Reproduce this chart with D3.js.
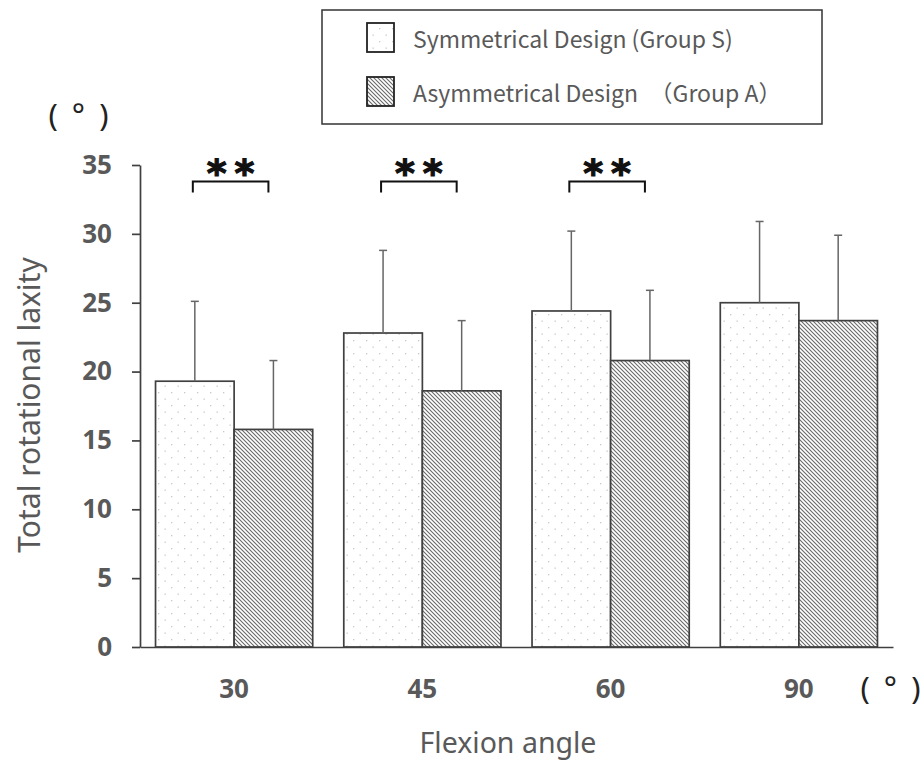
<!DOCTYPE html>
<html>
<head>
<meta charset="utf-8">
<script src="https://cdn.jsdelivr.net/npm/d3@7"></script>
<style>
  body { margin: 0; background: #fff; }
  svg { display: block; }
</style>
</head>
<body>
<svg id="vis" width="924" height="763"></svg>
<script>
// data
const angles = ["30", "45", "60", "90"];
const groups = ["S", "A"];
const groupLabels = ["Symmetrical Design (Group S)", "Asymmetrical Design\u3000\uff08Group A\uff09"];
const meanS = [19.3, 22.8, 24.4, 25.0];
const meanA = [15.8, 18.6, 20.8, 23.7];
const sdS = [5.8, 6.0, 5.8, 5.9];
const sdA = [5.0, 5.1, 5.1, 6.2];
const significant = ["30", "45", "60"];
const yTicks = [0, 5, 10, 15, 20, 25, 30, 35];

const TEXT = "#595959";
const LINE = "#404040";
const FONT = "'Noto Sans', 'Open Sans', sans-serif";

window.onload = function(){
    draw();
};

function draw(){
    const svg = d3.select("#vis");

    // rows for the bars
    const rows = [];
    angles.forEach(function(a, i){
        rows.push({angle: a, group: "S", mean: meanS[i], sd: sdS[i]});
        rows.push({angle: a, group: "A", mean: meanA[i], sd: sdA[i]});
    });

    // patterns
    const defs = svg.append("defs");
    const dots = defs.append("pattern")
        .attr("id", "dots")
        .attr("patternUnits", "userSpaceOnUse")
        .attr("width", 13).attr("height", 13);
    dots.append("rect").attr("width", 13).attr("height", 13).attr("fill", "#fff");
    dots.append("rect").attr("x", 2).attr("y", 2).attr("width", 1.3).attr("height", 1.3).attr("fill", "#c8c8c8");
    dots.append("rect").attr("x", 8.5).attr("y", 8.5).attr("width", 1.3).attr("height", 1.3).attr("fill", "#c8c8c8");

    const hatch = defs.append("pattern")
        .attr("id", "hatch")
        .attr("patternUnits", "userSpaceOnUse")
        .attr("width", 4).attr("height", 4);
    hatch.append("rect").attr("width", 4).attr("height", 4).attr("fill", "#fff");
    hatch.append("path")
        .attr("d", "M-1,-1 L5,5 M-1,3 L1,5 M3,-1 L5,1")
        .attr("stroke", "#6a6a6a")
        .attr("stroke-width", 1.1);

    const fills = {S: "url(#dots)", A: "url(#hatch)"};

    // scales
    const x0 = d3.scaleBand()
        .domain(angles)
        .range([140, 893])
        .paddingInner(0.165)
        .paddingOuter(0.0825);
    const x1 = d3.scaleBand()
        .domain(groups)
        .range([0, x0.bandwidth()]);
    const y = d3.scaleLinear()
        .domain([0, 35])
        .range([647, 165]);

    // bars
    svg.append("g").selectAll("rect")
        .data(rows)
        .enter()
        .append("rect")
        .attr("x", function(d){ return x0(d.angle) + x1(d.group); })
        .attr("y", function(d){ return y(d.mean); })
        .attr("width", x1.bandwidth())
        .attr("height", function(d){ return y(0) - y(d.mean); })
        .attr("fill", function(d){ return fills[d.group]; })
        .attr("stroke", LINE)
        .attr("stroke-width", 1.7);

    // error bars (upper only)
    const err = svg.append("g")
        .attr("stroke", "#666")
        .attr("stroke-width", 1.5);
    rows.forEach(function(d){
        const cx = x0(d.angle) + x1(d.group) + x1.bandwidth() / 2;
        err.append("line")
            .attr("x1", cx).attr("x2", cx)
            .attr("y1", y(d.mean)).attr("y2", y(d.mean + d.sd));
        err.append("line")
            .attr("x1", cx - 4).attr("x2", cx + 4)
            .attr("y1", y(d.mean + d.sd)).attr("y2", y(d.mean + d.sd));
    });

    // axes
    const yAxis = d3.axisLeft(y)
        .tickValues(yTicks)
        .tickSize(8)
        .tickSizeOuter(0)
        .tickPadding(20);
    const gy = svg.append("g")
        .attr("transform", "translate(140,0)")
        .call(yAxis);
    gy.selectAll("line, path").attr("stroke", LINE).attr("stroke-width", 1.7);
    gy.selectAll("text")
        .attr("fill", TEXT)
        .style("font-family", FONT)
        .style("font-size", "26px")
        .style("font-weight", "bold");

    const xAxis = d3.axisBottom(x0)
        .tickSize(0)
        .tickSizeOuter(0)
        .tickPadding(33);
    const gx = svg.append("g")
        .attr("transform", "translate(0,647)")
        .call(xAxis);
    gx.select("path").attr("stroke", LINE).attr("stroke-width", 1.7);
    gx.selectAll("text")
        .attr("fill", TEXT)
        .style("font-family", FONT)
        .style("font-size", "26px")
        .style("font-weight", "bold");

    // axis titles
    svg.append("text")
        .attr("transform", "translate(40,405) rotate(-90)")
        .attr("text-anchor", "middle")
        .attr("fill", TEXT)
        .style("font-family", FONT)
        .style("font-size", "30px")
        .text("Total rotational laxity");
    svg.append("text")
        .attr("x", 508)
        .attr("y", 753)
        .attr("text-anchor", "middle")
        .attr("fill", TEXT)
        .style("font-family", FONT)
        .style("font-size", "28.5px")
        .text("Flexion angle");

    // unit marks
    const unit = function(x, yy){
        svg.append("text")
            .attr("x", x).attr("y", yy)
            .attr("text-anchor", "middle")
            .attr("fill", "#222")
            .style("font-family", FONT)
            .style("font-size", "31px")
            .style("letter-spacing", "3px")
            .style("white-space", "pre")
            .text("( \u00b0 )");
    };
    unit(80, 126);
    unit(892, 699);

    // significance brackets
    const br = svg.append("g");
    significant.forEach(function(a){
        const xs = x0(a) + x1("S") + x1.bandwidth() / 2 - 2;
        const xa = x0(a) + x1("A") + x1.bandwidth() / 2 - 5;
        br.append("path")
            .attr("d", `M${xs},${y(33.0)} V${y(33.8)} H${xa} V${y(33.0)}`)
            .attr("fill", "none")
            .attr("stroke", "#111")
            .attr("stroke-width", 2);
        br.append("text")
            .attr("x", (xs + xa) / 2 + 4)
            .attr("y", y(33.8) + 4)
            .attr("text-anchor", "middle")
            .attr("fill", "#111")
            .attr("stroke", "#111")
            .attr("stroke-width", 1.2)
            .style("font-family", "'DejaVu Sans', sans-serif")
            .style("font-size", "38px")
            .style("font-weight", "bold")
            .style("letter-spacing", "8px")
            .text("**");
    });

    // legend
    const lg = svg.append("g");
    lg.append("rect")
        .attr("x", 322).attr("y", 10)
        .attr("width", 500).attr("height", 114)
        .attr("fill", "#fff")
        .attr("stroke", "#333")
        .attr("stroke-width", 1.5);
    groups.forEach(function(g, i){
        lg.append("rect")
            .attr("x", 367).attr("y", 23 + i * 54)
            .attr("width", 27).attr("height", 29)
            .attr("fill", fills[g])
            .attr("stroke", "#222")
            .attr("stroke-width", 1.8);
        lg.append("text")
            .attr("x", 413).attr("y", 40 + i * 54)
            .attr("dy", "0.35em")
            .attr("fill", TEXT)
            .style("font-family", "'Noto Sans CJK JP', 'Noto Sans', sans-serif")
            .style("font-size", "23px")
            .text(groupLabels[i]);
    });
}
</script>
</body>
</html>
